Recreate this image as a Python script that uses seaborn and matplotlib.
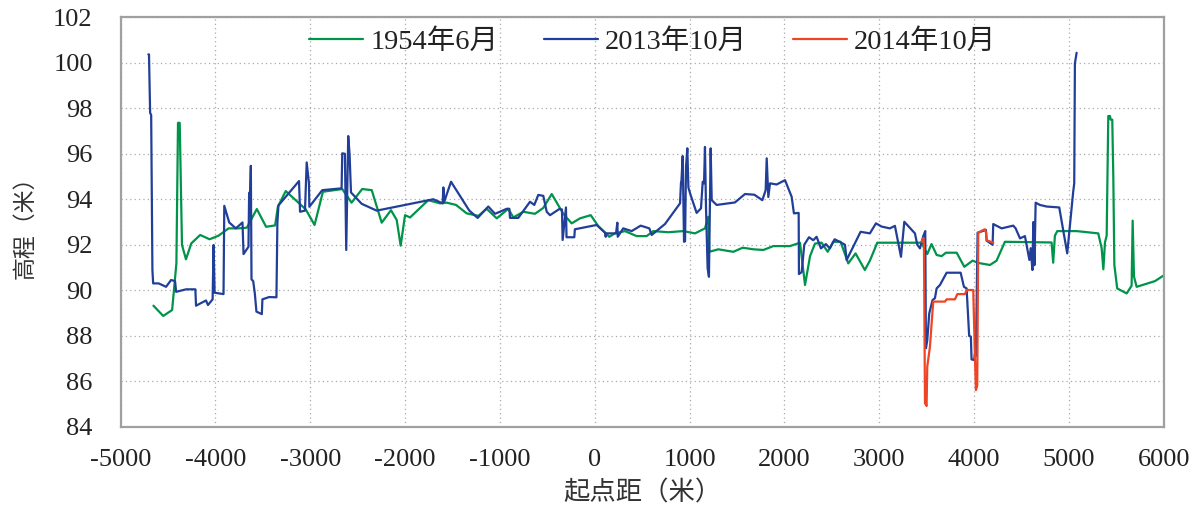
import matplotlib
matplotlib.use("Agg")
import matplotlib.pyplot as plt
import seaborn as sns
import pandas as pd

# ---------------- data ----------------
x_1954 = [-4653, -4550, -4456, -4411, -4394, -4376, -4352, -4310, -4254, -4160, -4061, -3966,
          -3861, -3756, -3668, -3563, -3465, -3370, -3341, -3258, -3048, -2954, -2866, -2662,
          -2564, -2452, -2351, -2246, -2148, -2088, -2046, -2000, -1947, -1755, -1631, -1560,
          -1462, -1350, -1227, -1139, -1033, -911, -858, -753, -630, -542, -453, -331, -243,
          -155, -42, 38, 154, 213, 319, 443, 548, 618, 776, 935, 1058, 1163, 1198, 1209, 1304,
          1374, 1462, 1560, 1673, 1778, 1883, 2059, 2165, 2218, 2271, 2323, 2393, 2457, 2516,
          2593, 2674, 2751, 2849, 2902, 2980, 3447, 3507, 3552, 3606, 3659, 3704, 3817, 3898,
          3985, 4045, 4168, 4238, 4326, 4818, 4835, 4853, 4878, 5082, 5310, 5346, 5364, 5381,
          5399, 5416, 5434, 5441, 5458, 5469, 5480, 5510, 5610, 5662, 5673, 5687, 5715, 5908, 6000]
y_1954 = [89.32, 88.87, 89.13, 91.18, 97.36, 97.36, 91.99, 91.36, 92.06, 92.43, 92.24, 92.4,
          92.72, 92.72, 92.75, 93.57, 92.79, 92.85, 93.67, 94.36, 93.56, 92.87, 94.33, 94.45,
          93.85, 94.45, 94.4, 92.97, 93.52, 93.09, 91.96, 93.3, 93.2, 93.96, 93.82, 93.85,
          93.75, 93.38, 93.27, 93.58, 93.16, 93.58, 93.2, 93.45, 93.36, 93.62, 94.23, 93.36, 92.94,
          93.16, 93.3, 92.82, 92.35, 92.5, 92.6, 92.38, 92.38, 92.6, 92.55, 92.6, 92.5, 92.72, 93.23, 91.69, 91.8,
          91.75, 91.69, 91.87, 91.8, 91.77, 91.94, 91.94, 92.09, 90.23, 91.5, 92.05, 92.09, 91.69, 92.13,
          92.13, 91.18, 91.62, 90.89, 91.3, 92.09, 92.09, 91.59, 92.03, 91.55, 91.5, 91.65, 91.65, 91.03,
          91.3, 91.2, 91.11, 91.3, 92.13, 92.1, 91.21, 92.4, 92.6, 92.6, 92.5, 91.85, 90.92, 92.1,
          92.4, 97.66, 97.66, 97.5, 97.5, 94.99, 91.11, 90.08, 89.86, 90.2, 93.06, 90.6, 90.15, 90.4, 90.65]

x_2013 = [-4706, -4700, -4688, -4677, -4664, -4656, -4597, -4520, -4467, -4425, -4414, -4309,
          -4211, -4204, -4099, -4078, -4029, -4019, -4008, -3914, -3906, -3854, -3784, -3714,
          -3703, -3651, -3644, -3633, -3626, -3619, -3601, -3584, -3567, -3510, -3504, -3433,
          -3356, -3346, -3335, -3258, -3118, -3107, -3055, -3037, -3013, -3009, -2873, -2669,
          -2662, -2634, -2620, -2599, -2585, -2570, -2457, -2299, -1702, -1603, -1596, -1586,
          -1515, -1322, -1234, -1122, -1051, -928, -900, -893, -806, -682, -637, -595, -542,
          -506, -471, -373, -345, -338, -303, -297, -215, -209, 21, 109, 116, 122, 225, 239,
          243, 301, 390, 485, 576, 601, 741, 900, 910, 914, 928, 942, 953, 963, 977, 988, 1012,
          1075, 1121, 1139, 1153, 1163, 1174, 1191, 1205, 1223, 1234, 1286, 1479, 1585, 1683,
          1768, 1803, 1814, 1831, 1849, 1919, 2007, 2077, 2101, 2151, 2154, 2183, 2210, 2260,
          2305, 2340, 2386, 2438, 2480, 2530, 2583, 2639, 2657, 2804, 2902, 2966, 3025, 3113,
          3166, 3230, 3265, 3377, 3402, 3430, 3465, 3486, 3493, 3507, 3528, 3563, 3588, 3606,
          3641, 3711, 3859, 3894, 3922, 3949, 3967, 3974, 4002, 4009, 4020, 4038, 4126, 4133,
          4196, 4203, 4291, 4414, 4439, 4485, 4537, 4584, 4598, 4616, 4626, 4637, 4650, 4695,
          4766, 4899, 4983, 5046, 5057, 5064, 5082]
y_2013 = [100.37, 100.37, 97.8, 97.7, 90.9, 90.3, 90.3, 90.15, 90.45, 90.4, 89.93, 90.04,
          90.04, 89.32, 89.55, 89.35, 89.6, 91.99, 89.89, 89.83, 93.71, 92.98, 92.72, 92.98,
          91.59, 91.91, 94.29, 94.29, 95.47, 90.48, 90.4, 89.86, 89.06, 88.95, 89.6, 89.7,
          89.69, 92.98, 93.73, 94.11, 94.8, 93.45, 93.5, 95.62, 94.7, 93.67, 94.4, 94.48,
          96.02, 96.0, 91.77, 96.78, 96.0, 94.3, 93.8, 93.5, 94.0, 93.82, 94.52, 93.9,
          94.77, 93.5, 93.18, 93.68, 93.36, 93.58, 93.58, 93.18, 93.18, 93.89, 93.75, 94.19, 94.15,
          93.45, 93.3, 93.57, 93.55, 92.21, 93.64, 92.33, 92.33, 92.68, 92.87, 92.53, 92.35, 92.5, 92.5, 92.97,
          92.35, 92.72, 92.6, 92.84, 92.72, 92.43, 92.91, 93.82, 94.73, 94.73, 95.9, 92.13, 92.15, 95.43, 96.24, 94.52, 94.18,
          93.4, 93.6, 94.77, 94.7, 96.3, 93.6, 90.96, 90.59, 96.24, 93.96, 93.75, 93.86, 94.23, 94.2,
          93.96, 94.4, 95.8, 94.1, 94.7, 94.65, 94.84, 94.11, 93.38, 93.4, 90.71, 90.8, 92.0, 92.33,
          92.2, 92.35, 91.84, 92.03, 91.84, 92.24, 92.13, 92.0, 91.33, 92.57, 92.5, 92.94, 92.8, 92.72,
          92.83, 91.47, 93.01, 92.5, 92.0, 91.84, 92.38, 92.6, 87.45, 87.8, 88.98, 89.57, 89.65, 90.08,
          90.23, 90.77, 90.77, 90.15, 90.08, 87.99, 87.96, 86.96, 86.93, 87.2, 87.1, 92.53, 92.65, 92.18,
          92.0, 92.91, 92.72, 92.84, 92.72, 92.28, 92.38, 91.33, 91.85, 90.89, 93.0, 91.1, 93.85, 93.75,
          93.68, 93.64, 91.62, 94.33, 94.7, 99.97, 100.44]

x_2014 = [3447, 3465, 3472, 3483, 3500, 3507, 3535, 3570, 3693, 3711, 3799, 3824, 3904, 3922,
          3992, 4009, 4020, 4034, 4045, 4097, 4115, 4126, 4133, 4203]
y_2014 = [92.13, 92.3, 92.0, 85.03, 84.91, 86.64, 87.5, 89.5, 89.5, 89.6, 89.6, 89.83, 89.83, 90.01,
          90.01, 87.2, 85.61, 85.8, 92.53, 92.65, 92.68, 92.55, 92.2, 92.09]

labels = ["1954年6月", "2013年10月", "2014年10月"]
colors = ["#00944a", "#213f99", "#ee4526"]
x_ticks = list(range(-5000, 6001, 1000))
y_ticks = list(range(84, 103, 2))

# ---------------- plot ----------------
sns.set_theme(style="white")
plt.rcParams['font.family'] = ['Liberation Serif', 'Noto Sans CJK SC', 'DejaVu Sans']
plt.rcParams['axes.unicode_minus'] = False

fig = plt.figure(figsize=(12.03, 5.12), dpi=100)
ax = fig.add_axes([0.1002, 0.1666, 0.8671, 0.7996])

series = [(x_1954, y_1954), (x_2013, y_2013), (x_2014, y_2014)]
for (xs, ys), lab, col in zip(series, labels, colors):
    df = pd.DataFrame({"x": xs, "y": ys})
    sns.lineplot(data=df, x="x", y="y", sort=False, estimator=None, ax=ax,
                 color=col, linewidth=1.6, label=lab)

ax.set_xlim(-5000, 6000)
ax.set_ylim(84, 102)
ax.set_xticks(x_ticks)
ax.set_yticks(y_ticks)
ax.set_xticklabels([str(v) for v in x_ticks])
ax.set_yticklabels([str(v) for v in y_ticks])
ax.grid(True, linestyle=(0, (1, 2.5)), color="#aaaaaa", linewidth=0.9)
for sp in ax.spines.values():
    sp.set_color("#a0a0a0")
    sp.set_linewidth(1.6)
ax.tick_params(direction="in", length=5, width=1, color="#a0a0a0",
               labelsize=19, labelcolor="#222222")
ax.tick_params(axis="x", pad=16)
ax.tick_params(axis="y", pad=20)

ax.set_xlabel("起点距（米）", fontsize=19, color="#333333", labelpad=6,
              family=['Noto Sans CJK SC'])
ax.set_ylabel("高程（米）", fontsize=16.5, color="#333333", labelpad=12,
              family=['Noto Sans CJK SC'])

leg = ax.legend(loc="center", bbox_to_anchor=(0.51, 0.94), ncol=3, frameon=False,
                fontsize=20.5, handlelength=1.9, handletextpad=0.25, columnspacing=1.6)
for t in leg.get_texts():
    t.set_color("#222222")

fig.savefig("out.png", dpi=100)
